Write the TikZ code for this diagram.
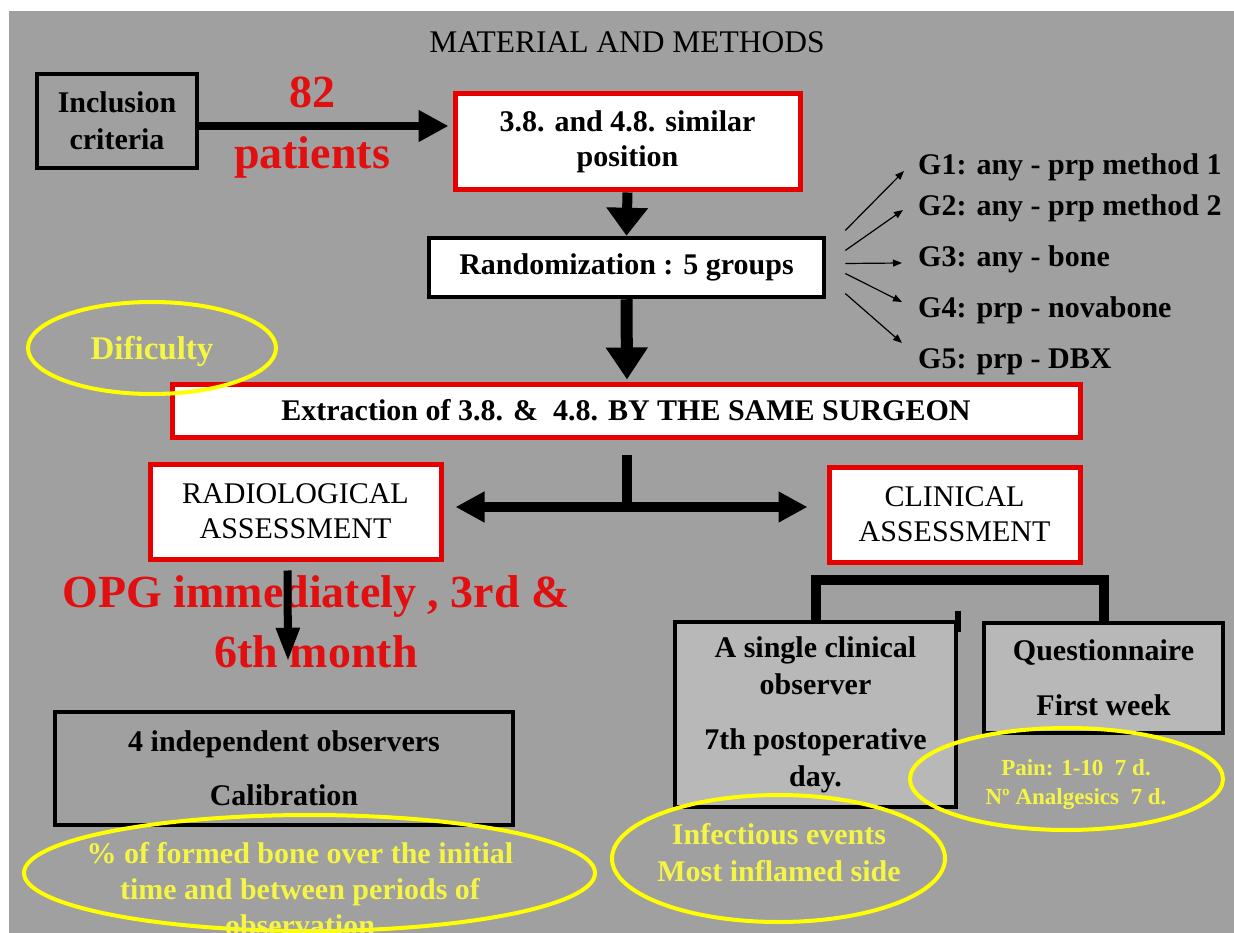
\documentclass[tikz,border=0pt]{standalone}
\usepackage{fontspec}
\setmainfont{Liberation Serif}
\usetikzlibrary{arrows.meta,calc}
\definecolor{bggray}{RGB}{160,160,160}
\definecolor{lightbox}{RGB}{184,184,184}
\definecolor{boxred}{RGB}{230,0,0}
\definecolor{txtred}{RGB}{225,15,15}
\definecolor{yline}{RGB}{255,255,0}
\definecolor{ytext}{RGB}{245,245,70}
\newcommand\setfs[2]{\fontsize{#1}{#2}\selectfont}
\begin{document}
\begin{tikzpicture}[x=1pt,y=-1pt,
  redbox/.style={draw=boxred, line width=5, fill=white, inner sep=0, align=center},
  blackbox/.style={draw=black, line width=4.5, inner sep=0, align=center},
  glabel/.style={anchor=west, inner sep=0, font={\bfseries\setfs{30}{35}}},
  redtext/.style={text=txtred, inner sep=0, align=center},
  ytxt/.style={text=ytext, inner sep=0, align=center},
  yell/.style={draw=yline, line width=4},
  thinarr/.style={line width=1.2, -{Triangle[length=9pt,width=7pt]}}
]
\useasboundingbox (0,0) rectangle (1234,933);
\fill[white] (0,0) rectangle (1234,933);
\fill[bggray] (9,11) rectangle (1234,933);

% title
\node[inner sep=0, font={\setfs{31.5}{36}}] (title) at (627,42) {MATERIAL AND METHODS};

% boxes
\node[blackbox, fill=bggray, minimum width=160, minimum height=94, font={\bfseries\setfs{30}{37}}] (incl) at (117,121) {Inclusion\\criteria};
\node[redbox, minimum width=345, minimum height=96, font={\bfseries\setfs{30}{35}}] (pos) at (627.5,142) {3.8. and 4.8. similar\\position};
\node[redtext, font={\bfseries\setfs{46}{61}}] (pat) at (312,128) {82\\patients};
\node[blackbox, fill=white, minimum width=395, minimum height=59, font={\bfseries\setfs{30}{35}}] (rand) at (626.5,267.5) {Randomization : 5 groups};

\node[glabel] (g1) at (918,167) {G1: any - prp method 1};
\node[glabel] (g2) at (918,208) {G2: any - prp method 2};
\node[glabel] (g3) at (918,259) {G3: any - bone};
\node[glabel] (g4) at (918,310) {G4: prp - novabone};
\node[glabel] (g5) at (918,362) {G5: prp - DBX};

\node[redbox, minimum width=908, minimum height=53, font={\bfseries\setfs{30}{35}}] (extr) at (626,410.5) {Extraction of 3.8. \& \ 4.8. BY THE SAME SURGEON};

\node[redbox, minimum width=291, minimum height=95, font={\setfs{30}{35}}] (radio) at (295.5,511.5) {RADIOLOGICAL\\ASSESSMENT};
\node[redbox, minimum width=251, minimum height=95, font={\setfs{30}{35}}] (clin) at (954.5,514.5) {CLINICAL\\ASSESSMENT};

\node[redtext, font={\bfseries\setfs{46}{60}}] (opg) at (316,622) {OPG immediately , 3rd \&\\6th month};

\node[blackbox, minimum width=458, minimum height=113, font={\bfseries\setfs{30}{35}}] (obs) at (284,768.5) {4 independent observers\\[19pt]Calibration};

\node[blackbox, fill=lightbox, minimum width=281, minimum height=185, font={\bfseries\setfs{30}{37}}] (single) at (815.5,714.5) {A single clinical\\observer\\[18pt]7th postoperative\\day.};
\node[blackbox, fill=lightbox, minimum width=239, minimum height=110, font={\bfseries\setfs{30}{35}}] (quest) at (1103.5,678) {Questionnaire\\[20pt]First week};

% connectors
\draw[line width=8, -{Triangle[length=30pt,width=30pt]}] ($(incl.east)+(0,5)$) -- ($(pos.west |- incl.east)+(-4,5)$);
\draw[line width=10, -{Triangle[length=28pt,width=40pt]}] (pos.south) -- (rand.north);
\draw[line width=12, -{Triangle[length=32pt,width=40pt]}] (rand.south) -- ($(extr.north)+(1,-2)$);

\coordinate (split) at (627,507);
\draw[line width=10] ($(extr.south)+(1,15)$) -- ($(split)+(0,5)$);
\draw[line width=10, -{Triangle[length=29pt,width=29pt]}] ($(split)+(5,0)$) -- ($(radio.east |- split)+(12,0)$);
\draw[line width=10, -{Triangle[length=29pt,width=29pt]}] ($(split)+(-5,0)$) -- ($(clin.west |- split)+(-19,0)$);

\draw[line width=8, -{Triangle[length=34pt,width=22pt]}] ($(radio.south)+(-8,9)$) -- ($(obs.north)+(4,-48)$);

\draw[thinarr] ($(rand.east)+(19,-37)$) -- ($(g1.west)+(-14,4)$);
\draw[thinarr] ($(rand.east)+(19,-17)$) -- ($(g2.west)+(-15,2)$);
\draw[thinarr] ($(rand.east)+(19,-4)$) -- ($(g3.west)+(-16,4)$);
\draw[thinarr] ($(rand.east)+(19,6)$) -- ($(g4.west)+(-16,-8)$);
\draw[thinarr] ($(rand.east)+(19,26)$) -- ($(g5.west)+(-16,-19)$);

% bracket over the two clinical boxes
\draw[line width=10, line join=miter] (single.north) -- ++(0,-40) -| (quest.north);
\draw[line width=6] ($(single.north east)+(0,-9)$) -- ($(single.north east)+(0,12)$);

% yellow ellipses
\draw[yell] (152,348) ellipse [x radius=124, y radius=46];
\draw[yell] (309.5,873) ellipse [x radius=285.5, y radius=58];
\draw[yell] (778.5,858.5) ellipse [x radius=166.5, y radius=63.5];
\draw[yell] (1066.5,779) ellipse [x radius=156.5, y radius=51];

\node[ytxt, font={\bfseries\setfs{33}{38}}] (dif) at (152,351) {Dificulty};
\node[ytxt, font={\bfseries\setfs{30}{36}}] (bone) at (300,889) {\% of formed bone over the initial\\time and between periods of\\observation};
\node[ytxt, font={\bfseries\setfs{30}{37}}] (inf) at (779,853) {Infectious events\\Most inflamed side};
\node[ytxt, font={\bfseries\setfs{23}{29}}] (pain) at (1076,785) {Pain: 1-10 \ 7 d.\\Nº Analgesics \ 7 d.};
\end{tikzpicture}
\end{document}
